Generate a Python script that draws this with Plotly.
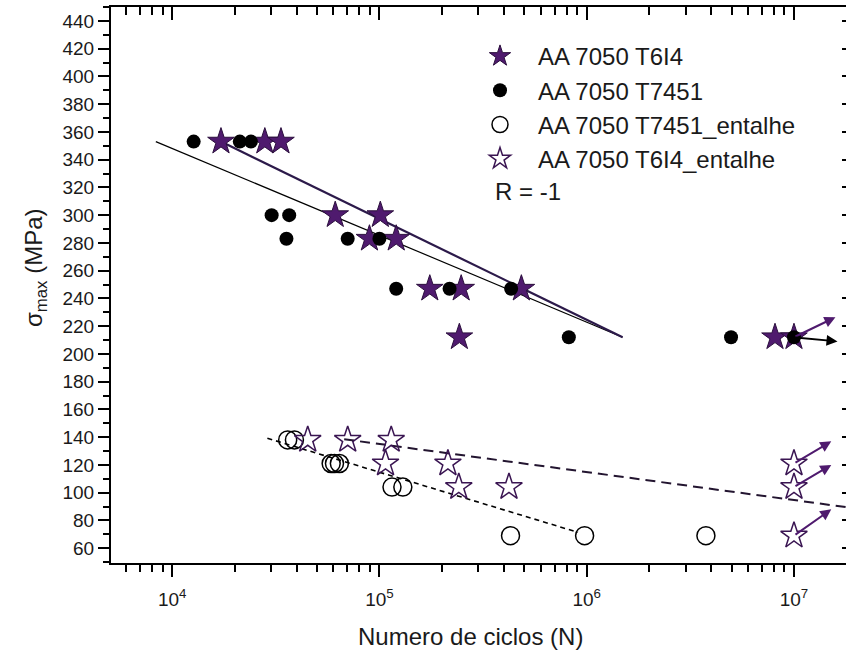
import numpy as np
import plotly.graph_objects as go

# ---------------- data ----------------
t6i4_N = [17200, 28000, 33500, 61200, 101000, 89500, 120500, 175000, 248000, 484000, 243000, 8.1e6, 1e7]
t6i4_S = [353, 353, 353, 300, 300, 283, 283, 247, 247, 247, 212, 212, 212]

t7451_N = [12700, 21200, 24000, 30200, 36700, 35600, 70300, 100000, 120500, 218000, 432000, 820000, 4.97e6, 1e7]
t7451_S = [353, 353, 353, 300, 300, 283, 283, 283, 247, 247, 247, 212, 212, 212]

t7451e_N = [36100, 38900, 58500, 60700, 64100, 115000, 129700, 429000, 977000, 3.76e6]
t7451e_S = [138, 138, 121, 121, 121, 104, 104, 69, 69, 69]

t6i4e_N = [45100, 70300, 114000, 107000, 214000, 1e7, 241500, 421700, 1e7, 1e7]
t6i4e_S = [138, 138, 138, 121, 121, 121, 104, 104, 104, 69]

# fitted curves (end points)
fit_t7451_N = [8340, 1.49e6]
fit_t7451_S = [353, 212]
fit_t6i4_N = [17200, 1.49e6]
fit_t6i4_S = [353, 212]
fit_t7451e_N = [28800, 908000]
fit_t7451e_S = [139.2, 71.4]
fit_t6i4e_N = [67600, 1.8e7]
fit_t6i4e_S = [138.5, 89.5]

# run-outs (N, S) -> arrows
runout_N = [1e7, 1e7, 1e7, 1e7, 1e7]
runout_S = [212, 212, 121, 104, 69]
runout_series = ["T6I4", "T7451", "T6I4e", "T6I4e", "T6I4e"]

x_tick_vals = [1e4, 1e5, 1e6, 1e7]
x_tick_text = ["10<sup>4</sup>", "10<sup>5</sup>", "10<sup>6</sup>", "10<sup>7</sup>"]
y_tick_vals = list(range(60, 441, 20))

legend_names = ["AA 7050 T6I4", "AA 7050 T7451", "AA 7050 T7451_entalhe", "AA 7050 T6I4_entalhe"]

# ---------------- style ----------------
PURPLE = "#4f1a6e"
PURPLE_DARK = "#2b0f3d"
FONT = "Arial, Liberation Sans, sans-serif"
TXT = "#1a1a1a"

fig = go.Figure()

# fit lines
fig.add_trace(go.Scatter(x=fit_t7451_N, y=fit_t7451_S, mode="lines",
                         line=dict(color="black", width=1.2), showlegend=False, hoverinfo="skip"))
fig.add_trace(go.Scatter(x=fit_t6i4_N, y=fit_t6i4_S, mode="lines",
                         line=dict(color="#2c1a4a", width=2.2), showlegend=False, hoverinfo="skip"))
fig.add_trace(go.Scatter(x=fit_t7451e_N, y=fit_t7451e_S, mode="lines",
                         line=dict(color="black", width=1.6, dash="5px,4px"), showlegend=False, hoverinfo="skip"))
fig.add_trace(go.Scatter(x=fit_t6i4e_N, y=fit_t6i4e_S, mode="lines",
                         line=dict(color="#231530", width=2, dash="10px,6px"), showlegend=False, hoverinfo="skip"))

# markers
fig.add_trace(go.Scatter(x=t6i4_N, y=t6i4_S, mode="markers", name=legend_names[0],
                         marker=dict(symbol="star", size=20, color=PURPLE,
                                     line=dict(color=PURPLE_DARK, width=1))))
fig.add_trace(go.Scatter(x=t7451_N, y=t7451_S, mode="markers", name=legend_names[1],
                         marker=dict(symbol="circle", size=14, color="black",
                                     line=dict(color="black", width=0))))
fig.add_trace(go.Scatter(x=t7451e_N, y=t7451e_S, mode="markers", name=legend_names[2],
                         marker=dict(symbol="circle-open", size=18, color="black",
                                     line=dict(color="black", width=1.5))))
fig.add_trace(go.Scatter(x=t6i4e_N, y=t6i4e_S, mode="markers", name=legend_names[3],
                         marker=dict(symbol="star-open", size=20, color="#3a1552",
                                     line=dict(color="#3a1552", width=1.5))))

# run-out arrows (direction offsets are styling)
arrow_style = {
    "T6I4": dict(color=PURPLE, dlog=0.20, dS=14.4),
    "T7451": dict(color="black", dlog=0.21, dS=-3.0),
    "T6I4e": dict(color=PURPLE, dlog=0.18, dS=16.0),
}
for n, s, ser in zip(runout_N, runout_S, runout_series):
    st = arrow_style[ser]
    dS = st["dS"] + (3 if s < 80 else 0)
    fig.add_annotation(x=np.log10(n) + st["dlog"], y=s + dS, ax=np.log10(n), ay=s,
                       xref="x", yref="y", axref="x", ayref="y", text="",
                       showarrow=True, arrowhead=2, arrowsize=1.1, arrowwidth=2,
                       arrowcolor=st["color"], standoff=0, startstandoff=0)

# minor tick positions
minor_x = [m * 10 ** d for d in range(3, 8) for m in range(2, 10)]
minor_y = list(range(50, 451, 10))

xr = [3.705, 7.251]
yr = [49.3, 450]

common_x = dict(type="log", range=xr, showgrid=False, zeroline=False, automargin=False,
                showline=True, linecolor="black", linewidth=2)
common_y = dict(range=yr, showgrid=False, zeroline=False, automargin=False)

fig.update_layout(
    width=846, height=650,
    margin=dict(l=111, r=0, t=7, b=87, autoexpand=False),
    plot_bgcolor="white", paper_bgcolor="white",
    font=dict(family=FONT, color=TXT),
    xaxis=dict(**common_x, tickmode="array", tickvals=x_tick_vals, ticktext=x_tick_text,
               ticks="outside", ticklen=12, tickwidth=2, tickcolor="black",
               tickfont=dict(size=19, family=FONT, color=TXT), ticklabelstandoff=6,
               minor=dict(tickmode="array", tickvals=minor_x, ticks="outside",
                          ticklen=7, tickwidth=2, tickcolor="black")),
    xaxis2=dict(**common_x, overlaying="x", side="top", anchor="y",
                tickmode="array", tickvals=x_tick_vals, showticklabels=False,
                ticks="inside", ticklen=13, tickwidth=2, tickcolor="black",
                minor=dict(tickmode="array", tickvals=minor_x, ticks="inside",
                           ticklen=8, tickwidth=2, tickcolor="black")),
    yaxis=dict(**common_y, tickmode="array", tickvals=y_tick_vals,
               showline=True, linecolor="black", linewidth=2,
               ticks="outside", ticklen=11, tickwidth=2, tickcolor="black",
               tickfont=dict(size=19, family=FONT, color=TXT),
               minor=dict(tickmode="array", tickvals=minor_y, ticks="outside",
                          ticklen=6, tickwidth=2, tickcolor="black")),
    yaxis2=dict(**common_y, overlaying="y", side="right", anchor="x",
                tickmode="array", tickvals=y_tick_vals, showticklabels=False,
                showline=False, ticks="inside", ticklen=4, tickwidth=2, tickcolor="black"),
    legend=dict(x=(462 - 111) / 735, y=1 - (34 - 7) / 556, xanchor="left", yanchor="top",
                bgcolor="rgba(0,0,0,0)", font=dict(size=24, family=FONT, color=TXT),
                tracegroupgap=0, itemwidth=66),
    showlegend=True,
)

# empty trace so the mirrored axes are created
fig.add_trace(go.Scatter(x=[], y=[], xaxis="x2", yaxis="y2", showlegend=False, hoverinfo="skip"))

fig.add_annotation(text="R = -1", xref="paper", yref="paper", x=(493 - 111) / 735, y=1 - (192 - 7) / 556,
                   xanchor="left", yanchor="middle", showarrow=False,
                   font=dict(size=24, family=FONT, color=TXT))
fig.add_annotation(text="Numero de ciclos (N)", xref="paper", yref="paper",
                   x=(470 - 111) / 735, y=-(636 - 563) / 556, xanchor="center", yanchor="middle",
                   showarrow=False, font=dict(size=24, family=FONT, color=TXT))
fig.add_annotation(text="σ<sub>max</sub> (MPa)", xref="paper", yref="paper",
                   x=-(111 - 35) / 735, y=1 - (268 - 7) / 556, xanchor="center", yanchor="middle",
                   textangle=-90, showarrow=False, font=dict(size=24, family=FONT, color=TXT))

fig.write_html("out.html", config={"displayModeBar": False},
               post_script="document.body.style.margin='0';")
